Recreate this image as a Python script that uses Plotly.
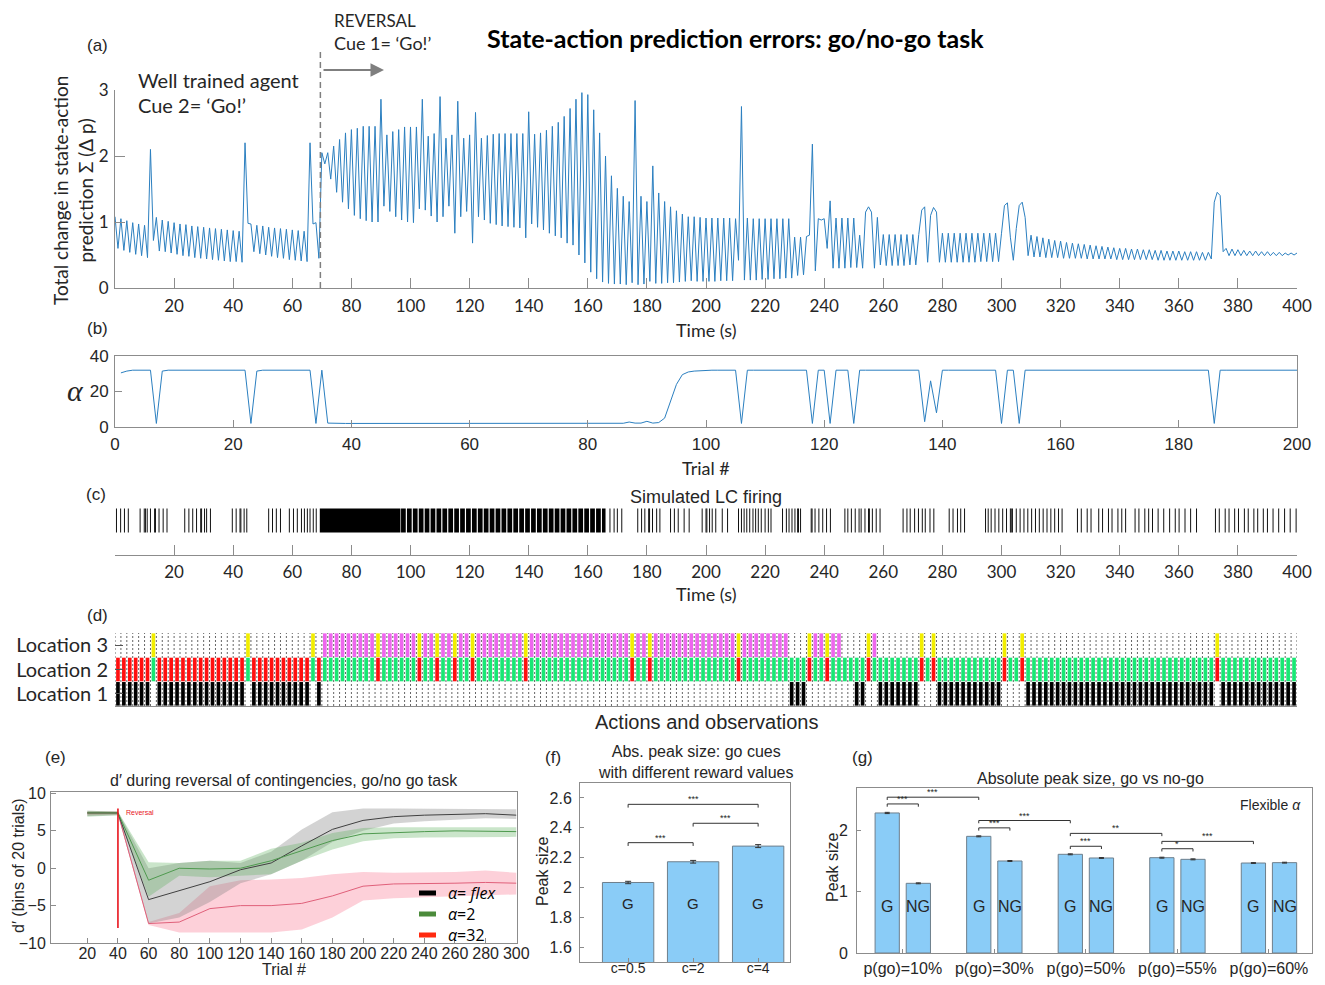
import plotly.graph_objects as go

# the page adds an 8 px body margin, so the figure is 16 px smaller than the window
OFFSET = 8
W, H = 1325 - 2 * OFFSET, 985 - 2 * OFFSET
def fx(x): return (x - OFFSET) / W
def fy(y): return 1 - (y - OFFSET) / H

CAL = "Lato"
ARI = "Liberation Sans"
AXC = "#8c8c8c"
TXT = "#262626"
BLUE = "#2b7fc0"

# ---------------- (a) total change in state-action prediction, one value per second
pe_total = [
    1.08, 0.60, 1.05, 0.57, 1.02, 0.54, 0.99, 0.51, 0.97, 0.49,
    0.95, 0.46, 2.10, 0.72, 1.07, 0.56, 1.03, 0.55, 1.01, 0.53,
    0.99, 0.51, 0.97, 0.49, 0.96, 0.48, 0.94, 0.46, 0.93, 0.45,
    0.92, 0.44, 0.91, 0.43, 0.90, 0.42, 0.89, 0.41, 0.88, 0.40,
    0.87, 0.40, 0.86, 0.39, 2.20, 0.98, 0.97, 0.55, 0.95, 0.52,
    0.94, 0.50, 0.92, 0.48, 0.91, 0.46, 0.90, 0.45, 0.89, 0.43,
    0.88, 0.42, 0.87, 0.41, 0.86, 0.40, 2.20, 0.97, 0.99, 0.45,
    2.05, 1.88, 2.05, 1.65, 2.15, 1.45, 2.25, 1.30, 2.35, 1.20,
    2.40, 1.10, 2.42, 1.05, 2.45, 1.02, 2.45, 1.00, 2.45, 1.00,
    2.86, 1.24, 2.32, 1.16, 2.37, 1.08, 2.40, 1.03, 2.44, 1.00,
    2.44, 0.99, 2.44, 1.20, 2.86, 1.18, 2.30, 1.09, 2.34, 1.00,
    2.90, 1.08, 2.27, 1.24, 2.32, 0.83, 2.83, 1.08, 2.27, 1.16,
    2.32, 0.68, 2.66, 1.08, 2.27, 1.03, 2.31, 0.98, 2.33, 0.96,
    2.34, 0.94, 2.34, 0.93, 2.34, 0.92, 2.34, 0.91, 2.34, 0.76,
    2.67, 0.97, 2.33, 0.92, 2.35, 0.88, 2.39, 0.83, 2.45, 0.79,
    2.51, 0.76, 2.60, 0.68, 2.72, 0.65, 2.86, 0.50, 2.96, 0.38,
    2.93, 0.24, 2.70, 0.14, 2.35, 0.09, 2.00, 0.07, 1.70, 0.06,
    1.51, 0.06, 1.39, 0.05, 1.31, 0.08, 2.84, 0.05, 1.39, 0.06,
    1.31, 0.10, 1.85, 0.07, 1.44, 0.07, 1.31, 0.08, 1.23, 0.08,
    1.17, 0.09, 1.12, 0.10, 1.08, 0.11, 1.08, 0.10, 1.07, 0.10,
    1.06, 0.10, 1.06, 0.10, 1.06, 0.11, 1.06, 0.11, 1.06, 0.11,
    1.05, 0.42, 2.75, 0.12, 1.06, 0.12, 1.05, 0.12, 1.05, 0.13,
    1.05, 0.13, 1.05, 0.14, 1.05, 0.14, 1.05, 0.15, 1.05, 0.15,
    0.77, 0.19, 0.77, 0.20, 0.78, 0.80, 2.18, 0.26, 1.05, 1.03,
    1.05, 0.60, 1.32, 0.30, 1.06, 0.30, 1.06, 0.30, 1.06, 0.31,
    1.06, 0.31, 0.80, 0.30, 1.15, 1.23, 1.15, 0.30, 1.07, 0.35,
    0.81, 0.34, 0.81, 0.34, 0.81, 0.34, 0.81, 0.34, 0.81, 0.35,
    0.81, 0.35, 0.81, 1.18, 1.23, 0.39, 1.10, 1.22, 1.15, 0.39,
    0.83, 0.39, 0.83, 0.39, 0.83, 0.39, 0.83, 0.39, 0.83, 0.39,
    0.83, 0.39, 0.83, 0.40, 0.83, 0.40, 0.83, 0.40, 0.83, 0.40,
    0.83, 1.25, 1.29, 0.77, 0.42, 0.90, 1.25, 1.30, 1.07, 0.49,
    0.80, 0.47, 0.78, 0.47, 0.76, 0.46, 0.74, 0.46, 0.72, 0.46,
    0.71, 0.45, 0.69, 0.45, 0.68, 0.45, 0.67, 0.45, 0.66, 0.44,
    0.65, 0.44, 0.64, 0.44, 0.63, 0.44, 0.62, 0.44, 0.61, 0.43,
    0.60, 0.43, 0.60, 0.43, 0.59, 0.43, 0.59, 0.43, 0.58, 0.43,
    0.58, 0.43, 0.57, 0.42, 0.57, 0.42, 0.56, 0.42, 0.56, 0.42,
    0.56, 0.42, 0.55, 0.42, 0.55, 0.42, 0.55, 0.42, 0.54, 0.42,
    0.54, 0.44, 1.30, 1.45, 1.40, 0.55, 0.60, 0.49, 0.59, 0.49,
    0.58, 0.49, 0.57, 0.49, 0.56, 0.49, 0.56, 0.49, 0.55, 0.49,
    0.55, 0.49, 0.54, 0.49, 0.54, 0.49, 0.53, 0.50, 0.53, 0.50,
    0.53,
]
reversal_time = 69.5
time_ticks = [20, 40, 60, 80, 100, 120, 140, 160, 180, 200,
              220, 240, 260, 280, 300, 320, 340, 360, 380, 400]

# ---------------- (b) alpha per trial
alpha_trial = [
    30.5, 31.5, 32, 32, 32, 32, 2, 31.5, 32, 32,
    32, 32, 32, 32, 32, 32, 32, 32, 32, 32,
    32, 32, 2, 31.5, 32, 32, 32, 32, 32, 32,
    32, 32, 32, 2, 32, 2.2, 2, 2, 2, 2,
    2, 2, 2, 2, 2, 2, 2, 2, 2, 2,
    2, 2, 2, 2, 2, 2, 2, 2, 2, 2,
    2, 2, 2, 2, 2, 2, 2, 2, 2, 2,
    2, 2, 2, 2, 2, 2, 2, 2, 2, 2,
    2, 2, 2, 2, 2, 2.1, 2.8, 2.2, 2.2, 3.2,
    2.2, 2.5, 5, 14, 24, 29.5, 31, 31.5, 31.8, 32,
    32, 32, 32, 32, 32, 2, 32, 32, 32, 32,
    32, 32, 32, 32, 32, 32, 32, 2, 32, 32,
    2, 32, 32, 32, 2, 32, 32, 32, 32, 32,
    32, 32, 32, 32, 32, 32, 3, 26, 8, 32,
    32, 32, 32, 32, 32, 32, 32, 32, 32, 2,
    32, 32, 2, 32, 32, 32, 32, 32, 32, 32,
    32, 32, 32, 32, 32, 32, 32, 32, 32, 32,
    32, 32, 32, 32, 32, 32, 32, 32, 32, 32,
    32, 32, 32, 32, 32, 2, 32, 32, 32, 32,
    32, 32, 32, 32, 32, 32, 32, 32, 32, 32,
]
trial_ticks = [0, 20, 40, 60, 80, 100, 120, 140, 160, 180, 200]

# ---------------- (c) simulated LC firing (spike times in s, and dense bursts)
lc_spikes = [
    0.5, 1.9, 3.2, 4.5,
    8.5, 9.9, 10.3, 10.9, 12.0, 13.4, 13.7, 14.9, 16.3, 17.6,
    23.6, 25.0, 26.3, 27.6, 29.0, 29.3, 30.3, 31.0, 32.3,
    39.7, 41.0, 42.3, 42.6, 43.7, 44.6,
    52.0, 53.3, 54.6, 56.0,
    59.0, 60.4, 61.7, 63.1, 64.1, 65.1, 66.0, 67.1, 68.1,
    167.5, 168.9, 170.0, 171.5,
    176.9, 178.2, 179.3, 180.6, 180.9, 181.9, 183.3, 184.4,
    188.0, 189.3, 190.6, 192.6, 194.3,
    198.7, 200.0, 200.3, 201.2, 202.1, 203.3, 205.5, 207.3,
    211.0, 212.0, 212.9, 213.8, 214.8, 215.9, 216.8, 217.7, 218.7, 220.0, 221.1, 222.0,
    225.9, 227.2, 228.1, 229.1, 230.1, 231.0, 231.3, 232.0,
    235.6, 235.9, 236.9, 238.2, 239.5, 240.8, 242.1,
    247.0, 248.0, 249.2, 250.5, 251.8, 252.5, 253.8, 255.0, 255.3, 256.3, 257.6, 258.9,
    266.7, 268.0, 269.1, 270.6, 271.9, 273.2, 274.2, 275.8, 277.1,
    282.3, 283.6, 285.1, 286.2, 287.5,
    294.6, 295.5, 296.5, 297.8, 299.1, 300.4, 301.7, 303.0, 303.3, 303.7, 305.0,
    306.3, 307.6, 308.9, 310.2, 311.5, 312.8, 314.1, 315.4, 316.7, 318.0, 319.3, 320.5,
    325.7, 327.0, 329.0, 330.3, 332.9, 334.2, 336.2, 337.4, 339.4, 340.7, 342.0,
    345.2, 346.5, 348.5, 349.8, 351.1, 353.0, 354.9, 356.9, 358.8, 360.1, 362.1, 364.0, 366.0,
    372.4, 373.7, 375.7, 377.0, 378.9, 380.2, 382.2, 383.5, 385.4, 386.7, 388.6,
    390.0, 391.9, 393.8, 395.8, 397.7, 399.7,
]
lc_bursts = [
    (69.3, 96.6), (96.8, 98.4), (98.8, 100.4), (100.8, 102.4), (102.8, 104.4),
    (104.8, 106.4), (106.8, 108.4), (108.8, 110.4), (110.8, 112.4), (112.8, 114.4),
    (114.8, 116.4), (116.8, 118.4), (118.8, 120.4), (120.8, 122.4), (122.8, 124.4),
    (124.8, 126.4), (126.8, 128.4), (128.8, 130.4), (130.8, 132.4), (132.8, 134.4),
    (134.8, 136.4), (136.8, 138.4), (138.8, 140.4), (140.8, 142.4), (142.8, 144.4),
    (144.8, 146.4), (146.8, 148.4), (148.8, 150.4), (150.8, 152.4), (152.8, 154.4),
    (154.8, 156.4), (156.8, 158.4), (158.8, 160.4), (160.8, 162.4), (162.8, 164.4),
    (164.8, 166.0),
]

# ---------------- (d) actions and observations, one character per trial
loc3_codes = "".join([
    "......y...", "..........", "..y.......", "...y.mmmmm", "mmmmymmmmm",
    "mymmymmymm", "ymmmmmmmmy", "mmmmmmmmmm", "mmmmmmmymm", "ymmmmmmmmm",
    "mmmmmymmmm", "mmmm...ymm", "ymm....ym.", "......y.y.", "..........",
    "y..y......", "..........", "..........", "......y...", "..........",
])
loc2_codes = "".join([
    "rrrrrrgrrr", "rrrrrrrrrr", "rrgrrrrrrr", "rrrgrggggg", "ggggrggggg",
    "grggrggrgg", "rggggggggr", "gggggggggg", "gggggggrgg", "rggggggggg",
    "gggggrgggg", "gggggggrgg", "rggggggrgg", "ggggggrgrg", "gggggggggg",
    "rggrgggggg", "gggggggggg", "gggggggggg", "ggggggrggg", "gggggggggg",
])
loc1_codes = "".join([
    "kkkkkk.kkk", "kkkkkkkkkk", "kk.kkkkkkk", "kkk.k.....", "..........",
    "..........", "..........", "..........", "..........", "..........",
    "..........", "....kkk...", ".....kk..k", "kkkkkk...k", "kkkkkkkkkk",
    "....kkkkkk", "kkkkkkkkkk", "kkkkkkkkkk", "kkkkkk.kkk", "kkkkkkkkkk",
])
code_colors = {"y": "#f2ee00", "m": "#ee66ee", "r": "#ff1010", "g": "#18e874", "k": "#000000"}
location_labels = ["Location 1", "Location 2", "Location 3"]

# ---------------- (e) d' during reversal
trial_bins = [20, 40, 60, 80, 100, 120, 140, 160, 180, 200, 220, 240, 260, 280, 300]
dprime_flex = [7.4, 7.4, -4.2, -3.0, -1.8, -0.2, 0.7, 3.0, 5.2, 6.4, 6.9, 7.1, 7.2, 7.3, 7.1]
flex_lo = [7.0, 7.1, -7.4, -6.6, -4.5, -2.0, -0.8, 1.0, 3.5, 5.0, 6.0, 6.3, 6.5, 6.7, 6.6]
flex_hi = [7.7, 7.6, 0.0, 0.7, 1.0, 0.7, 2.2, 5.2, 7.5, 8.0, 8.0, 8.0, 8.0, 8.0, 7.9]
dprime_a2 = [7.4, 7.4, -1.6, 0.0, -0.1, 0.0, 1.0, 2.3, 3.7, 4.6, 4.8, 4.9, 5.0, 5.0, 4.9]
a2_lo = [6.9, 7.1, -3.8, -1.0, -1.2, -1.0, -0.8, 1.0, 2.5, 3.6, 4.0, 4.1, 4.2, 4.2, 4.2]
a2_hi = [7.7, 7.6, 0.8, 0.7, 1.0, 1.0, 2.6, 3.4, 4.7, 5.4, 5.5, 5.5, 5.6, 5.6, 5.5]
dprime_a32 = [7.4, 7.4, -7.4, -7.2, -5.4, -5.0, -5.0, -4.7, -3.7, -2.4, -2.1, -2.1, -2.0, -1.9, -2.0]
a32_lo = [7.1, 7.2, -7.6, -8.6, -8.6, -8.6, -8.6, -8.2, -6.6, -4.3, -4.0, -3.9, -3.8, -3.6, -3.5]
a32_hi = [7.6, 7.6, -7.2, -6.0, -2.4, -1.6, -1.5, -1.3, -0.8, -0.5, -0.6, -0.6, -0.5, -0.3, -0.6]
reversal_trial = 40
legend_labels = ["<i>α</i>= <i>flex</i>", "<i>α</i>=2", "<i>α</i>=32"]

# ---------------- (f) peak size for go cues with different reward values
f_conditions = ["c=0.5", "c=2", "c=4"]
f_peak = [2.033, 2.172, 2.277]
f_err = [0.008, 0.009, 0.010]
f_sig = [(1, 2, 2.30, "***"), (2, 3, 2.43, "***"), (1, 3, 2.557, "***")]

# ---------------- (g) go vs no-go peak size
g_conditions = ["p(go)=10%", "p(go)=30%", "p(go)=50%", "p(go)=55%", "p(go)=60%"]
g_go = [2.283, 1.902, 1.609, 1.554, 1.467]
g_nogo = [1.136, 1.500, 1.549, 1.527, 1.473]
g_go_err = [0.010, 0.008, 0.008, 0.008, 0.007]
g_nogo_err = [0.008, 0.008, 0.007, 0.008, 0.007]
g_sig = [
    (1, "G", 1, "NG", 2.43, "***"), (1, "G", 2, "G", 2.54, "***"),
    (2, "G", 2, "NG", 2.04, "***"), (2, "G", 3, "G", 2.16, "***"),
    (3, "G", 3, "NG", 1.74, "***"), (3, "G", 4, "G", 1.95, "**"),
    (4, "G", 4, "NG", 1.70, "*"), (4, "G", 5, "G", 1.82, "***"),
]

# =====================================================================
fig = go.Figure()

# (a)
fig.add_trace(go.Scatter(x=list(range(len(pe_total))), y=pe_total, mode="lines",
                         line=dict(color=BLUE, width=1), xaxis="x", yaxis="y"))
# (b)
fig.add_trace(go.Scatter(x=list(range(1, len(alpha_trial) + 1)), y=alpha_trial, mode="lines",
                         line=dict(color=BLUE, width=1), xaxis="x2", yaxis="y2"))
# (c)
R0, R1 = 0.45, 0.93
sx, sy = [], []
for t in lc_spikes:
    sx += [t, t, None]
    sy += [R0, R1, None]
fig.add_trace(go.Scatter(x=sx, y=sy, mode="lines", line=dict(color="#111111", width=1),
                         xaxis="x3", yaxis="y3"))
bx, by = [], []
for s, e in lc_bursts:
    bx += [s, e, e, s, s, None]
    by += [R0, R0, R1, R1, R0, None]
fig.add_trace(go.Scatter(x=bx, y=by, mode="lines", fill="toself", fillcolor="#000000",
                         line=dict(width=0, color="#000000"), xaxis="x3", yaxis="y3"))
# (d) dotted column separators
n_trials = len(loc2_codes)
dx, dy = [], []
for i in range(n_trials + 1):
    dx += [i + 0.5, i + 0.5, None]
    dy += [0, 3, None]
fig.add_trace(go.Scatter(x=dx, y=dy, mode="lines", line=dict(color="#666666", width=1, dash="2px,2px"),
                         xaxis="x4", yaxis="y4"))
for row, codes in enumerate([loc1_codes, loc2_codes, loc3_codes]):
    xs = [i + 1 for i, c in enumerate(codes) if c != "."]
    cs = [code_colors[c] for c in codes if c != "."]
    fig.add_trace(go.Bar(x=xs, y=[0.97] * len(xs), base=row + 0.015, width=0.62,
                         marker=dict(color=cs, line=dict(width=0)), xaxis="x4", yaxis="y4"))

# (e)
def band(lo, hi, color):
    return go.Scatter(x=trial_bins + trial_bins[::-1], y=hi + lo[::-1], fill="toself",
                      fillcolor=color, line=dict(width=0), mode="lines", xaxis="x5", yaxis="y5")
fig.add_trace(band(a32_lo, a32_hi, "rgba(250,150,170,0.45)"))
fig.add_trace(band(flex_lo, flex_hi, "rgba(130,130,130,0.35)"))
fig.add_trace(band(a2_lo, a2_hi, "rgba(90,175,90,0.32)"))
fig.add_trace(go.Scatter(x=trial_bins, y=dprime_a32, mode="lines", line=dict(color="#e0607a", width=1),
                         xaxis="x5", yaxis="y5"))
fig.add_trace(go.Scatter(x=trial_bins, y=dprime_flex, mode="lines", line=dict(color="#404040", width=1),
                         xaxis="x5", yaxis="y5"))
fig.add_trace(go.Scatter(x=trial_bins, y=dprime_a2, mode="lines", line=dict(color="#4f9a4f", width=1),
                         xaxis="x5", yaxis="y5"))
fig.add_trace(go.Scatter(x=[reversal_trial, reversal_trial], y=[-8, 8], mode="lines",
                         line=dict(color="#e8141c", width=1.6), xaxis="x5", yaxis="y5"))

# (f)
BARC = "#8accf7"
BARL = "#6e7f8c"
fig.add_trace(go.Bar(x=[1, 2, 3], y=f_peak, width=0.79,
                     marker=dict(color=BARC, line=dict(color=BARL, width=1)),
                     error_y=dict(type="data", array=f_err, color="#333", thickness=1, width=3),
                     xaxis="x6", yaxis="y6"))
fx_, fy_ = [], []
for i, j, y, lab in f_sig:
    fx_ += [i, i, j, j, None]
    fy_ += [y - 0.022, y, y, y - 0.022, None]
fig.add_trace(go.Scatter(x=fx_, y=fy_, mode="lines", line=dict(color="#333", width=1),
                         xaxis="x6", yaxis="y6"))

# (g)
OFF = 0.17
def gpos(grp, kind):
    return grp - OFF if kind == "G" else grp + OFF
groups = list(range(1, len(g_conditions) + 1))
fig.add_trace(go.Bar(x=[gpos(g, "G") for g in groups], y=g_go, width=0.265,
                     marker=dict(color=BARC, line=dict(color=BARL, width=1)),
                     error_y=dict(type="data", array=g_go_err, color="#333", thickness=1, width=2.5),
                     xaxis="x7", yaxis="y7"))
fig.add_trace(go.Bar(x=[gpos(g, "NG") for g in groups], y=g_nogo, width=0.265,
                     marker=dict(color=BARC, line=dict(color=BARL, width=1)),
                     error_y=dict(type="data", array=g_nogo_err, color="#333", thickness=1, width=2.5),
                     xaxis="x7", yaxis="y7"))
gx, gy = [], []
for g1, k1, g2, k2, y, lab in g_sig:
    a, b = gpos(g1, k1), gpos(g2, k2)
    gx += [a, a, b, b, None]
    gy += [y - 0.045, y, y, y - 0.045, None]
fig.add_trace(go.Scatter(x=gx, y=gy, mode="lines", line=dict(color="#333", width=1),
                         xaxis="x7", yaxis="y7"))

# =====================================================================
def axis(domain, anchor, rng, tickvals=None, ticktext=None, size=16, family=ARI, mirror=False,
         ticklen=8, showline=True, showticklabels=True, standoff=None, ticks="inside"):
    d = dict(domain=domain, anchor=anchor, range=rng, showgrid=False, zeroline=False,
             showline=showline, linecolor=AXC, linewidth=1, mirror=mirror, automargin=False,
             ticks=ticks if showline else "", ticklen=ticklen, tickcolor=AXC, tickwidth=1,
             tickfont=dict(family=family, size=size, color=TXT),
             showticklabels=showticklabels, fixedrange=True)
    if tickvals is not None:
        d["tickmode"] = "array"
        d["tickvals"] = tickvals
        if ticktext is not None:
            d["ticktext"] = ticktext
    if standoff is not None:
        d["ticklabelstandoff"] = standoff
    return d

XA = [fx(115), fx(1297)]
layout = dict(
    width=W, height=H, margin=dict(l=0, r=0, t=0, b=0, pad=0), autosize=False,
    paper_bgcolor="white", plot_bgcolor="rgba(0,0,0,0)", showlegend=False, barmode="overlay",
    xaxis=axis(XA, "y", [0, 400], time_ticks, size=17, family=CAL, ticklen=10, standoff=3),
    yaxis=axis([fy(288), fy(90)], "x", [0, 3], [0, 1, 2, 3], size=17, family=CAL, ticklen=10, standoff=2),
    xaxis2=axis(XA, "y2", [0, 200], trial_ticks, size=17, mirror=True, ticklen=7, standoff=2),
    yaxis2=axis([fy(427), fy(356)], "x2", [0, 40], [0, 20, 40], size=17, mirror=True, ticklen=7, standoff=2),
    xaxis3=axis(XA, "y3", [0, 400], time_ticks, size=17, family=CAL, ticklen=10, standoff=2),
    yaxis3=axis([fy(555), fy(505)], "x3", [0, 1], showline=False, showticklabels=False),
    xaxis4=axis(XA, "y4", [0.5, n_trials + 0.5], [], ticks=""),
    yaxis4=axis([fy(706), fy(633)], "x4", [0, 3], [0.5, 1.5, 2.5], location_labels, size=20,
                family=CAL, ticklen=8, showline=False, standoff=6),
    xaxis5=axis([fx(51), fx(517)], "y5", [-3.7, 300.5], trial_bins, size=16, mirror=True, ticklen=5, standoff=-4),
    yaxis5=axis([fy(943), fy(792)], "x5", [-10, 10.2], [-10, -5, 0, 5, 10], size=16, mirror=True, ticklen=5, standoff=1),
    xaxis6=axis([fx(580), fx(790)], "y6", [0.26, 3.49], [1, 2, 3], f_conditions, size=14, mirror=True, ticklen=4, standoff=-7),
    yaxis6=axis([fy(962), fy(783)], "x6", [1.5, 2.7], [1.6, 1.8, 2.0, 2.2, 2.4, 2.6],
                ["1.6", "1.8", "2", "2.2", "2.4", "2.6"], size=16, mirror=True, ticklen=4, standoff=4),
    xaxis7=axis([fx(857), fx(1312)], "y7", [0.5, 5.47], groups, g_conditions, size=16, mirror=True, ticklen=4, standoff=1),
    yaxis7=axis([fy(953), fy(788)], "x7", [0, 2.69], [0, 1, 2], size=16, mirror=True, ticklen=4, standoff=5),
)
layout["yaxis4"]["ticks"] = "inside"
layout["yaxis4"]["tickcolor"] = "#555"
layout["xaxis4"]["showline"] = True
layout["xaxis4"]["showticklabels"] = False

anns = []
def A(text, x, y, size=17, family=ARI, xanchor="center", yanchor="middle", angle=0,
      color=TXT, weight="normal", style="normal"):
    anns.append(dict(text=text, x=fx(x), y=fy(y), xref="paper", yref="paper", showarrow=False,
                     xanchor=xanchor, yanchor=yanchor, textangle=angle,
                     font=dict(family=family, size=size, color=color, weight=weight, style=style)))

def D(text, x, y, xr, yr, size=15, family=ARI, xanchor="center", yanchor="middle", color=TXT, yshift=0):
    anns.append(dict(text=text, x=x, y=y, xref=xr, yref=yr, showarrow=False, xanchor=xanchor,
                     yanchor=yanchor, yshift=yshift, font=dict(family=family, size=size, color=color)))

# panel letters
for lab, x, y in [("(a)", 97, 45), ("(b)", 97, 328), ("(c)", 96, 494), ("(d)", 97, 615),
                  ("(e)", 55, 757), ("(f)", 553, 757), ("(g)", 862, 757)]:
    A(lab, x, y, size=17)

# (a) texts
A("<b>State-action prediction errors: go/no-go task</b>", 735, 38, size=25, family=CAL, color="#000")
A("REVERSAL", 332, 20, size=17, family=CAL, xanchor="left")
A("Cue 1= ‘Go!’", 332, 43, size=18, family=CAL, xanchor="left")
A("Well trained agent", 136, 80, size=20, family=CAL, xanchor="left")
A("Cue 2= ‘Go!’", 136, 105, size=20, family=CAL, xanchor="left")
A("Total change in state-action<br>prediction Σ (Δ p)", 73, 191, size=19, family=CAL, angle=-90)
A("Time (s)", 706, 330, size=18, family=CAL)
anns.append(dict(x=fx(384), y=fy(70), xref="paper", yref="paper", ax=-62, ay=0, text="",
                 showarrow=True, arrowhead=2, arrowsize=1.5, arrowwidth=1.8, arrowcolor="#7f7f7f"))
# (b)
A("α", 75, 390, size=30, family="Liberation Serif", style="italic")
A("Trial #", 706, 468, size=18, family=CAL)
# (c)
A("Simulated LC firing", 706, 497, size=18)
A("Time (s)", 706, 594, size=18, family=CAL)
# (d)
A("Actions and observations", 706, 722, size=20)
# (e)
A("d′ during reversal of contingencies, go/no go task", 284, 780, size=16)
A("d′ (bins of 20 trials)", 18, 866, size=16, angle=-90)
A("Trial #", 284, 969, size=16)
D("Reversal", reversal_trial + 4, 7.5, "x5", "y5", size=7, xanchor="left", color="#e8141c")
leg_colors = ["#000000", "#4b8b3b", "#ff2a10"]
leg_y = [893, 914, 935]
shapes = []
for lab, col, yy in zip(legend_labels, leg_colors, leg_y):
    shapes.append(dict(type="line", xref="paper", yref="paper", x0=fx(419), x1=fx(436),
                       y0=fy(yy), y1=fy(yy), line=dict(color=col, width=5)))
    A(lab, 446, yy, size=16, family="Open Sans", xanchor="left", color="#000")
# (f)
A("Abs. peak size: go cues<br>with different reward values", 695, 762, size=16)
A("Peak size", 542, 872, size=16, angle=-90)
for i in range(len(f_conditions)):
    D("G", i + 1, 1.895, "x6", "y6", size=15)
for i, j, y, lab in f_sig:
    D(lab, (i + j) / 2, y, "x6", "y6", size=9, yanchor="bottom", yshift=-2)
# (g)
A("Absolute peak size, go vs no-go", 1090, 778, size=16)
A("Peak size", 832, 868, size=16, angle=-90)
A("Flexible <i>α</i>", 1303, 805, size=14, xanchor="right")
for g in groups:
    D("G", gpos(g, "G"), 0.76, "x7", "y7", size=16)
    D("NG", gpos(g, "NG"), 0.76, "x7", "y7", size=16)
for g1, k1, g2, k2, y, lab in g_sig:
    D(lab, (gpos(g1, k1) + gpos(g2, k2)) / 2, y, "x7", "y7", size=9, yanchor="bottom", yshift=-2)

# reversal dashed line in (a)
shapes.append(dict(type="line", xref="x", yref="paper", x0=reversal_time, x1=reversal_time,
                   y0=fy(288), y1=fy(50), line=dict(color="#7f7f7f", width=1.5, dash="6px,4px")))

layout["annotations"] = anns
layout["shapes"] = shapes
fig.update_layout(**layout)
fig.write_html("out.html")
